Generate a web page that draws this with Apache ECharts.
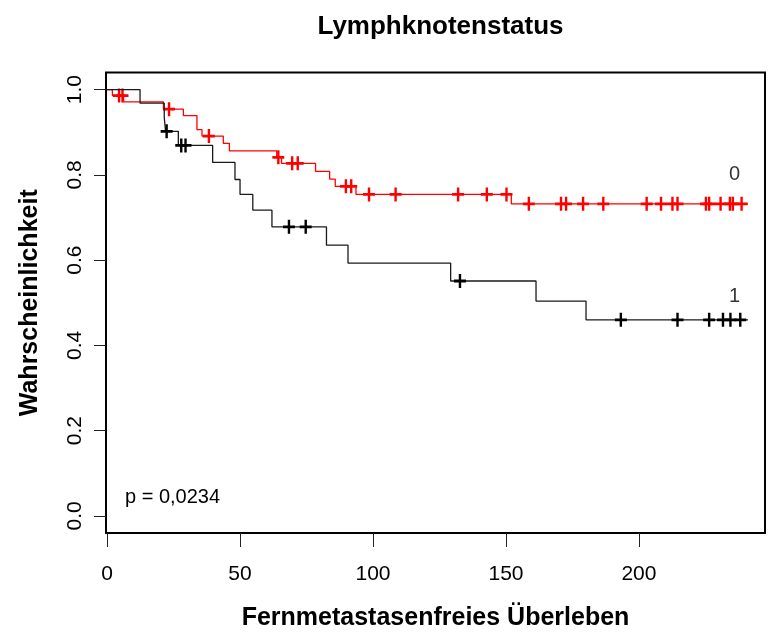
<!DOCTYPE html>
<html>
<head>
<meta charset="utf-8">
<script src="https://cdn.jsdelivr.net/npm/echarts@6/dist/echarts.min.js"></script>
<style>
  html, body { margin: 0; padding: 0; background: #fff; }
  #chart { width: 773px; height: 637px; }
</style>
</head>
<body>
<div id="chart"></div>
<script>
// Kaplan-Meier estimates, group 0 (node negative): event times and survival after each step
const group0Times = [0, 2, 6.2, 21.2, 28.7, 33.8, 35.7, 43.7, 46.0, 63.8, 65.6, 78.4, 83.7, 85.8, 93.6, 152.0, 241];
const group0Surv  = [1, 0.986, 0.971, 0.954, 0.939, 0.906, 0.891, 0.874, 0.856, 0.841, 0.827, 0.808, 0.790, 0.773, 0.754, 0.732, 0.732];
const group0Censored = [4.5, 5.8, 23.3, 38.3, 64.4, 69.6, 71.7, 89.8, 91.8, 98.5, 108.5, 132.0, 142.8, 150.2,
  158.6, 170.7, 172.6, 179.0, 186.6, 202.9, 208.3, 212.6, 214.5, 225.2, 226.4, 230.7, 234.2, 235.3, 238.6];

// Group 1 (node positive)
const group1Times = [0, 12.4, 21.5, 22.0, 26.8, 39.7, 48.1, 50.0, 54.8, 62.0, 82.5, 90.6, 129.2, 161.3, 180.1, 241];
const group1Surv  = [1, 0.968, 0.935, 0.902, 0.869, 0.829, 0.789, 0.754, 0.717, 0.678, 0.635, 0.593, 0.551, 0.504, 0.460, 0.460];
const group1Censored = [22.4, 27.9, 29.5, 68.4, 74.7, 132.7, 193.2, 214.5, 226.4, 231.6, 234.4, 238.1];

// Axis ticks
const xTicks = [0, 50, 100, 150, 200];
const yTicks = [0, 0.2, 0.4, 0.6, 0.8, 1.0];

// Curve end labels
const curveLabels = [
  { text: '0', x: 236, y: 0.80 },
  { text: '1', x: 236, y: 0.515 }
];
const pValueText = 'p = 0,0234';

const FONT = '"Liberation Sans", Arial, sans-serif';

function stepPoints(times, surv) {
  return times.map((t, i) => [t, surv[i]]);
}
// survival value of the step function at time t
function survAt(times, surv, t) {
  let s = surv[0];
  for (let i = 0; i < times.length; i++) {
    if (times[i] <= t) s = surv[i]; else break;
  }
  return s;
}
function censorPoints(times, surv, cens) {
  return cens.map(t => [t, survAt(times, surv, t)]);
}

const PLUS = 'path://M-0.2,-1 L0.2,-1 L0.2,-0.2 L1,-0.2 L1,0.2 L0.2,0.2 L0.2,1 L-0.2,1 L-0.2,0.2 L-1,0.2 L-1,-0.2 L-0.2,-0.2 Z';

const chart = echarts.init(document.getElementById('chart'), null, { renderer: 'canvas' });

chart.setOption({
  animation: false,
  backgroundColor: '#fff',
  title: {
    text: 'Lymphknotenstatus',
    left: 435.5, top: 9, textAlign: 'center',
    textStyle: { fontFamily: FONT, fontWeight: 'bold', fontSize: 26, color: '#000' }
  },
  grid: {
    left: 106, right: 8, top: 72.5, bottom: 104,
    show: true, borderColor: '#000', borderWidth: 2, backgroundColor: 'transparent'
  },
  xAxis: {
    type: 'value', min: -0.4, max: 247.4,
    axisLine: { show: false, onZero: false },
    splitLine: { show: false },
    axisTick: { show: true, inside: false, customValues: xTicks, length: 14, lineStyle: { color: '#222', width: 1 } },
    axisLabel: {
      customValues: xTicks, margin: 31, color: '#000',
      fontFamily: FONT, fontSize: 21
    }
  },
  yAxis: {
    type: 'value', min: -0.04, max: 1.04,
    axisLine: { show: false, onZero: false },
    splitLine: { show: false },
    axisTick: { show: true, inside: false, customValues: yTicks, length: 12, lineStyle: { color: '#222', width: 1 } },
    axisLabel: {
      customValues: yTicks, rotate: 90, margin: 20, color: '#000',
      fontFamily: FONT, fontSize: 21,
      formatter: v => v.toFixed(1)
    }
  },
  graphic: [
    {
      type: 'text', x: 30, y: 302.75, rotation: Math.PI / 2,
      style: { text: 'Wahrscheinlichkeit', fontFamily: FONT, fontWeight: 'bold', fontSize: 25,
        fill: '#000', align: 'center', verticalAlign: 'middle' }
    },
    {
      type: 'text', x: 435.5, y: 618,
      style: { text: 'Fernmetastasenfreies Überleben', fontFamily: FONT, fontWeight: 'bold', fontSize: 25,
        fill: '#000', align: 'center', verticalAlign: 'middle' }
    },
    {
      type: 'text', x: 125, y: 497,
      style: { text: pValueText, fontFamily: FONT, fontSize: 20,
        fill: '#000', align: 'left', verticalAlign: 'middle' }
    }
  ],
  series: [
    {
      name: '0', type: 'line', step: 'end', showSymbol: false,
      data: stepPoints(group0Times, group0Surv),
      lineStyle: { color: '#ff0000', width: 1.3 }, z: 2
    },
    {
      name: '0 zensiert', type: 'scatter', symbol: PLUS, symbolSize: [12, 14],
      data: censorPoints(group0Times, group0Surv, group0Censored),
      itemStyle: { color: '#ff0000', opacity: 1 }, z: 3
    },
    {
      name: '1', type: 'line', step: 'end', showSymbol: false,
      data: stepPoints(group1Times, group1Surv),
      lineStyle: { color: '#1a1a1a', width: 1.3 }, z: 4
    },
    {
      name: '1 zensiert', type: 'scatter', symbol: PLUS, symbolSize: [12, 14],
      data: censorPoints(group1Times, group1Surv, group1Censored),
      itemStyle: { color: '#000', opacity: 1 }, z: 5
    },
    {
      name: 'Beschriftung', type: 'scatter', symbolSize: 0, silent: true,
      data: curveLabels.map(d => ({ value: [d.x, d.y], name: d.text })),
      label: {
        show: true, position: 'inside', formatter: p => p.name,
        fontFamily: FONT, fontSize: 20, color: '#000'
      }, z: 6
    }
  ]
});
</script>
</body>
</html>
